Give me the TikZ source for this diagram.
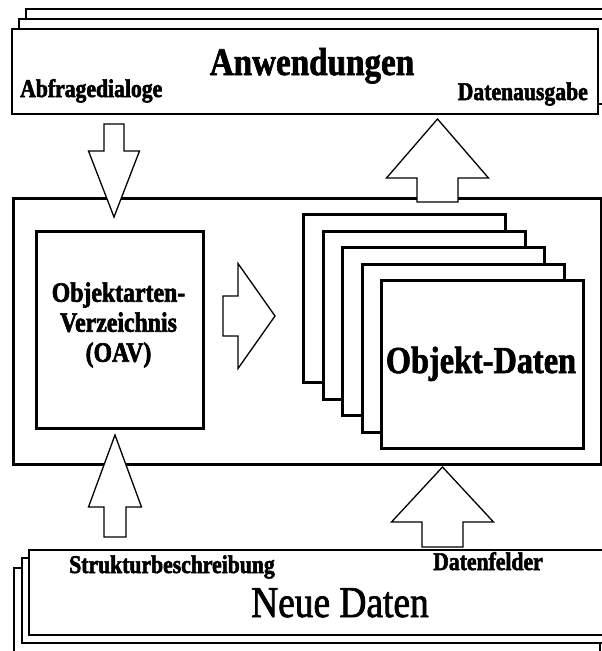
\documentclass[tikz,border=0pt]{standalone}
\usepackage{fontspec}
\setmainfont{Liberation Serif}[FakeStretch=0.85]
\newfontfamily\heavyfont{Liberation Serif}[FakeStretch=0.85, FakeBold=2.2]
\newfontfamily\mediumfont{Liberation Serif}[FakeStretch=0.85, FakeBold=1.6]
\usepackage{tikz}
\usetikzlibrary{positioning}

\begin{document}
\begin{tikzpicture}[
    x=1pt, y=-1pt,
    %% ── Styles ─────────────────────────────────────────────
    sheet/.style={
        draw, line width=2pt, fill=white,
        anchor=north west, inner sep=0pt,
        minimum width=586pt, minimum height=85pt
    },
    thickframe/.style={
        draw, line width=3.3pt, fill=white,
        anchor=north west, inner sep=0pt
    },
    card/.style={thickframe, minimum width=202pt, minimum height=168pt},
    headline/.style={font=\fontsize{39}{39}\selectfont\mediumfont\bfseries, inner sep=0pt},
    smalltag/.style={font=\fontsize{25.5}{26}\selectfont\heavyfont\bfseries, inner sep=0pt},
    blockline/.style={draw, fill=white, line width=1.3pt, line join=miter},
    pics/blockarrow/.style args={#1/#2/#3/#4}{code={
        \path[blockline] (0,-#3) -- ({#1-#2},-#3) -- ({#1-#2},-#4) -- (#1,0)
            -- ({#1-#2},#4) -- ({#1-#2},#3) -- (0,#3) -- cycle;
    }}
]
\useasboundingbox (0,0) rectangle (602,651);
\clip (0,0) rectangle (602,651);

%% ── Anwendungen (stack) ────────────────────────────────────
\node (anwC) [sheet] at (25,8)  {};
\node (anwB) [sheet] at (18,18) {};
\node (anwA) [sheet] at (11,28) {};
\node (anwtitle) [headline, anchor=base]      at (312,75)  {Anwendungen};
\node (ask)      [smalltag, anchor=base west] at (20,97)   {Abfragedialoge};
\node (give)     [smalltag, anchor=base east] at (588,100) {Datenausgabe};

%% ── Neue Daten (stack) ─────────────────────────────────────
\node (neuC) [sheet] at (13,567) {};
\node (neuB) [sheet] at (21,557) {};
\node (neuA) [sheet] at (28,549) {};
\node (neutitle) [font=\fontsize{44}{44}\selectfont\mediumfont, inner sep=0pt, anchor=base] at (340,617) {Neue Daten};
\node (struct)   [smalltag, anchor=base west] at (69,573)  {Strukturbeschreibung};
\node (fields)   [smalltag, anchor=base west] at (433,570) {Datenfelder};

%% ── System ─────────────────────────────────────────────────
\node (system) [thickframe, minimum width=588pt, minimum height=266pt] at (12,197) {};
\node (oav)    [thickframe, minimum width=167pt, minimum height=197pt] at (35,230) {};
\node (oavtext) [font=\fontsize{28}{30}\selectfont\heavyfont\bfseries, align=center, inner sep=0pt]
    at (118.5,325) {Objektarten-\\Verzeichnis\\(OAV)};
\foreach \i in {0,...,4}
    \node (obj\i) [card] at ({302+19.5*\i},{213+16.5*\i}) {};
\node (objtext) [font=\fontsize{38}{38}\selectfont\mediumfont\bfseries, inner sep=0pt, anchor=base] at (481,373) {Objekt-Daten};

%% ── Block arrows ───────────────────────────────────────────
\coordinate (askin)   at (114,124);
\coordinate (structin) at (115,537);
\coordinate (oavout)  at (223,316);
\coordinate (dataout) at (437.5,202);
\coordinate (fieldin) at (442.5,547);
\pic [rotate=-90] at (askin)    {blockarrow=93/66/10/25.5};
\pic [rotate=90]  at (structin) {blockarrow=102/72/11/26.5};
\pic              at (oavout)   {blockarrow=52/37/20/52.5};
\pic [rotate=90]  at (dataout)  {blockarrow=83/59/20.5/51};
\pic [rotate=90]  at (fieldin)  {blockarrow=80/55/20.5/51};

\end{tikzpicture}
\end{document}
